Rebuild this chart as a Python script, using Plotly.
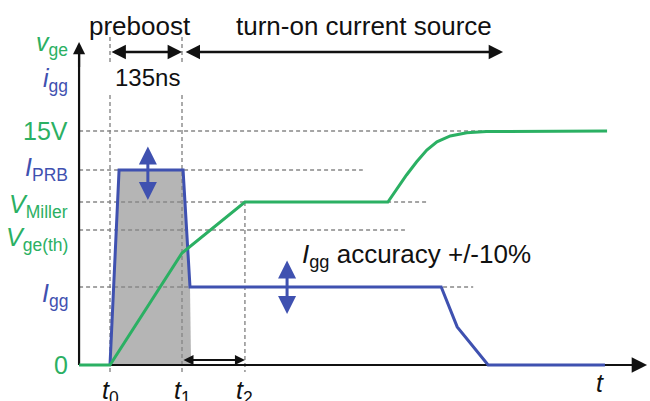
import plotly.graph_objects as go

# ---- data (time in ns, level in V-equivalent units) ----
T0, T1, T2 = 0, 135, 253
V15, I_PRB, V_MILLER, V_TH, I_GG = 15.0, 12.5, 10.45, 8.65, 5.0

vge_t = [-58, 0, 135, 253, 521, 538, 556, 575, 594, 613, 638, 669, 706, 932]
vge_v = [0, 0, 7.18, 10.45, 10.45, 11.33, 12.18, 13.03, 13.78, 14.31, 14.68, 14.89, 14.96, 15.0]

igg_t = [0, 17, 137, 150, 621, 651, 709, 928]
igg_v = [0, 12.5, 12.5, 5.0, 5.0, 2.44, 0, 0]

shade_t = [0, 17, 137, 150, 152, 0]
shade_v = [0, 12.5, 12.5, 5.0, 0, 0]

level_vals = [V15, I_PRB, V_MILLER, V_TH, I_GG]
level_ends = [712, 474, 594, 553, 681]

GREEN = "#2bb063"
BLUE = "#3f51b0"
GRAY = "#888888"
FONT = "Liberation Sans, Arial, sans-serif"

AX_X = -58  # y-axis position in time units

fig = go.Figure()

# shaded preboost area
fig.add_trace(go.Scatter(x=shade_t, y=shade_v, fill="toself", fillcolor="#b5b5b5",
                         line=dict(width=0), mode="lines", hoverinfo="skip"))

# horizontal dashed reference lines
for v, e in zip(level_vals, level_ends):
    fig.add_trace(go.Scatter(x=[AX_X, e], y=[v, v], mode="lines",
                             line=dict(color=GRAY, width=1.4, dash="4px,3px"), hoverinfo="skip"))

# vertical dashed time markers
for tm in [T0, T1]:
    fig.add_trace(go.Scatter(x=[tm, tm], y=[21.03, 19.42], mode="lines",
                             line=dict(color=GRAY, width=1.4, dash="4px,3px"), hoverinfo="skip"))
    fig.add_trace(go.Scatter(x=[tm, tm], y=[17.31, -0.45], mode="lines",
                             line=dict(color=GRAY, width=1.4, dash="4px,3px"), hoverinfo="skip"))
fig.add_trace(go.Scatter(x=[T2, T2], y=[V_MILLER, -0.45], mode="lines",
                         line=dict(color=GRAY, width=1.4, dash="4px,3px"), hoverinfo="skip"))

# axes lines
fig.add_trace(go.Scatter(x=[AX_X, AX_X], y=[0, 20.3], mode="lines",
                         line=dict(color="#111111", width=2.2), hoverinfo="skip"))
fig.add_trace(go.Scatter(x=[AX_X, 995], y=[0, 0], mode="lines",
                         line=dict(color="#111111", width=2.2), hoverinfo="skip"))

# curves
fig.add_trace(go.Scatter(x=igg_t, y=igg_v, mode="lines",
                         line=dict(color=BLUE, width=3), hoverinfo="skip"))
fig.add_trace(go.Scatter(x=vge_t, y=vge_v, mode="lines",
                         line=dict(color=GREEN, width=3), hoverinfo="skip"))


def arrow(x0, y0, x1, y1, color, width, size, both=True):
    fig.add_annotation(x=x1, y=y1, ax=x0, ay=y0, xref="x", yref="y", axref="x", ayref="y",
                       text="", showarrow=True, arrowhead=2, startarrowhead=2,
                       arrowside="end+start" if both else "end",
                       arrowsize=size, startarrowsize=size, arrowwidth=width,
                       arrowcolor=color, standoff=0, startstandoff=0)


arrow(AX_X, 19.0, AX_X, 20.7, "#111111", 2.2, 1.1, both=False)
arrow(975, 0, 1007, 0, "#111111", 2.2, 1.4, both=False)
arrow(T0, 20.06, T1, 20.06, "#111111", 2.5, 1.15)
arrow(139, 20.06, 737, 20.06, "#111111", 2.5, 1.15)
arrow(T1, 0.32, T2, 0.32, "#111111", 2, 1.0)
arrow(71, 14.1, 71, 10.58, BLUE, 3, 1.2)
arrow(332, 6.79, 332, 3.27, BLUE, 3, 1.2)


def label(x, y, text, color="#111111", size=25, xanchor="center", yanchor="middle"):
    fig.add_annotation(x=x, y=y, xref="x", yref="y", text=text, showarrow=False,
                       font=dict(family=FONT, size=size, color=color),
                       xanchor=xanchor, yanchor=yanchor)


label(56, 21.73, "preboost", size=26)
label(71, 18.4, "135ns", size=24)
label(476, 21.73, "turn-on current source", size=26)
label(356, 6.99, "<i>I</i><sub>gg</sub> accuracy +/-10%", size=26, xanchor="left")

LX = -75
label(LX, 20.55, "<i>v</i><sub>ge</sub>", GREEN, 25, xanchor="right")
label(LX, 18.25, "<i>i</i><sub>gg</sub>", BLUE, 25, xanchor="right")
label(LX, V15, "15V", GREEN, 25, xanchor="right")
label(LX, I_PRB + 0.05, "<i>I</i><sub>PRB</sub>", BLUE, 25, xanchor="right")
label(LX, V_MILLER - 0.25, "<i>V</i><sub>Miller</sub>", GREEN, 25, xanchor="right")
label(LX, V_TH - 0.6, "<i>V</i><sub>ge(th)</sub>", GREEN, 25, xanchor="right")
label(LX, I_GG - 0.5, "<i>I</i><sub>gg</sub>", BLUE, 25, xanchor="right")
label(LX, 0, "0", GREEN, 25, xanchor="right")

for tm, name in [(T0, "0"), (T1, "1"), (T2, "2")]:
    label(tm, -1.75, f"<i>t</i><sub>{name}</sub>", "#111111", 25)
label(919, -1.15, "<i>t</i>", "#111111", 25)

fig.update_layout(
    width=650, height=401, margin=dict(l=0, r=0, t=0, b=0),
    paper_bgcolor="white", plot_bgcolor="white", showlegend=False,
    xaxis=dict(range=[-206.25, 1012.5], visible=False, fixedrange=True),
    yaxis=dict(range=[-2.3077, 23.397], visible=False, fixedrange=True),
)

fig.write_html("out.html", config={"displayModeBar": False},
               post_script="document.body.style.margin='0';")
